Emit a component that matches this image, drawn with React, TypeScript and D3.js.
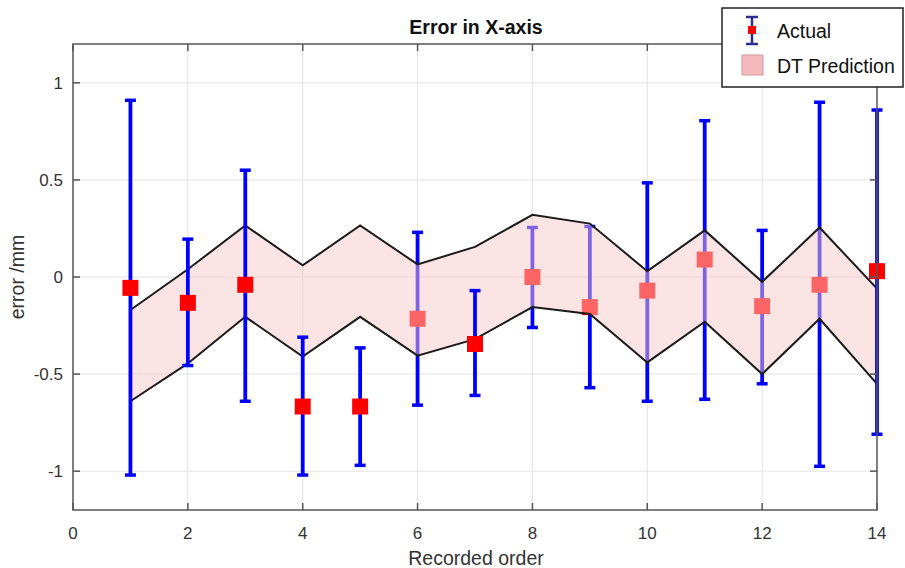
import React from 'react';
import * as d3 from 'd3';

// recorded order 1..14
const order = [1, 2, 3, 4, 5, 6, 7, 8, 9, 10, 11, 12, 13, 14];
const actualMean = [-0.056, -0.133, -0.04, -0.667, -0.667, -0.215, -0.345, 0.0, -0.155, -0.07, 0.09, -0.15, -0.04, 0.03];
const actualHigh = [0.91, 0.195, 0.55, -0.31, -0.365, 0.23, -0.07, 0.255, 0.26, 0.485, 0.805, 0.24, 0.9, 0.86];
const actualLow = [-1.02, -0.456, -0.64, -1.02, -0.97, -0.66, -0.61, -0.26, -0.57, -0.64, -0.63, -0.55, -0.975, -0.81];
const predUpper = [-0.17, 0.04, 0.265, 0.06, 0.265, 0.065, 0.155, 0.32, 0.275, 0.03, 0.24, -0.025, 0.255, -0.06];
const predLower = [-0.64, -0.445, -0.205, -0.41, -0.205, -0.405, -0.32, -0.155, -0.19, -0.44, -0.23, -0.5, -0.215, -0.55];
const xTicks = [0, 2, 4, 6, 8, 10, 12, 14];
const yTicks = [-1, -0.5, 0, 0.5, 1];

// which records were drawn after the band (not tinted by it)
const drawnAbove = [1, 2, 3, 4, 5, 7, 14];

const W = 905, H = 568;
const box = { left: 73, right: 877, top: 44, bottom: 510 };
const font = "'Liberation Sans', Arial, sans-serif";

export default function App() {
  const x = d3.scaleLinear().domain([0, 14]).range([box.left, box.right]);
  const y = d3.scaleLinear().domain([-1.2, 1.2]).range([box.bottom, box.top]);

  const pts = order.map((o, i) => ({ o, m: actualMean[i], hi: actualHigh[i], lo: actualLow[i] }));
  const band = d3.area<number>()
    .x((_, i) => x(order[i]))
    .y0((_, i) => y(predLower[i]))
    .y1((_, i) => y(predUpper[i]));
  const outline = d3.line<[number, number]>().x(d => x(d[0])).y(d => y(d[1]));
  const ring: [number, number][] = [
    ...order.map((o, i) => [o, predUpper[i]] as [number, number]),
    ...order.slice().reverse().map((o, i) => [o, predLower[13 - i]] as [number, number]),
  ];
  ring.push(ring[0]);

  const series = (list: typeof pts) => list.map(p => (
    <g key={p.o}>
      <line x1={x(p.o)} x2={x(p.o)} y1={y(p.hi)} y2={y(p.lo)} stroke="#0000ff" strokeWidth={3.8} />
      <line x1={x(p.o) - 5.5} x2={x(p.o) + 5.5} y1={y(p.hi)} y2={y(p.hi)} stroke="#0000ff" strokeWidth={3.5} />
      <line x1={x(p.o) - 5.5} x2={x(p.o) + 5.5} y1={y(p.lo)} y2={y(p.lo)} stroke="#0000ff" strokeWidth={3.5} />
      <rect x={x(p.o) - 8} y={y(p.m) - 8} width={16} height={16} fill="#ff0000" />
    </g>
  ));

  return (
    <svg width={W} height={H} style={{ position: 'absolute', left: 0, top: 0, background: '#fff' }} fontFamily={font}>
      <rect x={box.left} y={box.top} width={box.right - box.left} height={box.bottom - box.top} fill="#fff" />
      {xTicks.slice(1, -1).map(t => (
        <line key={'gx' + t} x1={x(t)} x2={x(t)} y1={box.top} y2={box.bottom} stroke="#e3e3e3" strokeWidth={1} />
      ))}
      {yTicks.map(t => (
        <line key={'gy' + t} x1={box.left} x2={box.right} y1={y(t)} y2={y(t)} stroke="#e3e3e3" strokeWidth={1} />
      ))}

      {series(pts.filter(p => !drawnAbove.includes(p.o)))}
      <path d={band(order) ?? ''} fill="rgb(250,202,202)" fillOpacity={0.5} />
      <path d={outline(ring) ?? ''} fill="none" stroke="#1a1a1a" strokeWidth={2} strokeLinejoin="miter" />
      {series(pts.filter(p => drawnAbove.includes(p.o)))}

      {/* axes box */}
      <rect x={box.left} y={box.top} width={box.right - box.left} height={box.bottom - box.top} fill="none" stroke="#555" strokeWidth={1.5} />
      {xTicks.map(t => (
        <g key={'tx' + t}>
          <line x1={x(t)} x2={x(t)} y1={box.bottom} y2={box.bottom - 7} stroke="#555" strokeWidth={1.5} />
          <line x1={x(t)} x2={x(t)} y1={box.top} y2={box.top + 7} stroke="#555" strokeWidth={1.5} />
          <text x={x(t)} y={box.bottom + 29} textAnchor="middle" fontSize={17} fill="#333">{t}</text>
        </g>
      ))}
      {yTicks.map(t => (
        <g key={'ty' + t}>
          <line x1={box.left} x2={box.left + 7} y1={y(t)} y2={y(t)} stroke="#555" strokeWidth={1.5} />
          <line x1={box.right} x2={box.right - 7} y1={y(t)} y2={y(t)} stroke="#555" strokeWidth={1.5} />
          <text x={box.left - 10} y={y(t) + 6} textAnchor="end" fontSize={17} fill="#333">{String(t)}</text>
        </g>
      ))}

      <text x={476} y={34} textAnchor="middle" fontSize={19.5} fontWeight="bold" fill="#111">Error in X-axis</text>
      <text x={476} y={565} textAnchor="middle" fontSize={19.5} fill="#333">Recorded order</text>
      <text transform={`translate(24,${(box.top + box.bottom) / 2}) rotate(-90)`} textAnchor="middle" fontSize={19.5} fill="#333">error /mm</text>

      {/* legend */}
      <g>
        <rect x={722} y={8} width={181} height={79} fill="#fff" stroke="#222" strokeWidth={1.5} />
        <line x1={752} x2={752} y1={17} y2={44} stroke="#2e2e8f" strokeWidth={2.5} />
        <line x1={746} x2={758} y1={17} y2={17} stroke="#2e2e8f" strokeWidth={2.5} />
        <line x1={746} x2={758} y1={44} y2={44} stroke="#2e2e8f" strokeWidth={2.5} />
        <rect x={748} y={26} width={8} height={8} fill="#ff0000" />
        <text x={777} y={38} fontSize={19.5} fill="#111">Actual</text>
        <rect x={742} y={55} width={21} height={20} fill="#f5b8bd" stroke="#d09a9e" strokeWidth={1} />
        <text x={777} y={73} fontSize={19.5} fill="#111">DT Prediction</text>
      </g>
    </svg>
  );
}
